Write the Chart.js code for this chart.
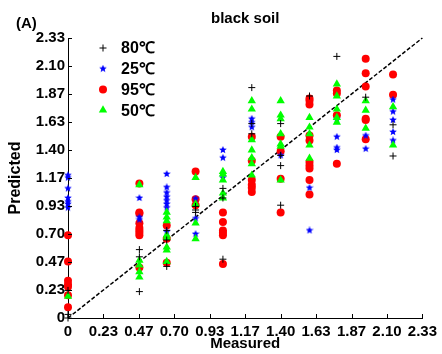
<!DOCTYPE html>
<html>
<head>
<meta charset="utf-8">
<script src="https://cdn.jsdelivr.net/npm/chart.js@4.4.0/dist/chart.umd.min.js"></script>
<style>
  html, body { margin: 0; padding: 0; background: #fff; }
</style>
</head>
<body>
<canvas id="myChart" width="442" height="354"></canvas>
<script>
// Mesures (abscisses des colonnes)
const measured = [0, 0.47, 0.65, 0.84, 1.02, 1.21, 1.40, 1.59, 1.77, 1.96, 2.14];

// Valeurs prédites, une liste par colonne
const pred80 = [
  [0.00, 0.03, 0.23], [0.57, 0.51, 0.22], [0.73, 0.65, 0.43], [0.93, 0.90, 0.88],
  [1.08, 1.00, 0.49], [1.92, 1.62, 1.535], [1.62, 1.355, 1.27, 0.94], [1.85],
  [2.18], [1.84], [1.61, 1.35]
];
const pred25 = [
  [1.19, 1.17, 1.08, 1.00, 0.97, 0.95, 0.92], [1.00, 0.84, 0.82],
  [1.20, 1.09, 1.045, 1.01, 0.98, 0.95, 0.92, 0.72], [0.995, 0.83, 0.70],
  [1.40, 1.335, 1.17], [1.66, 1.63, 1.59], [1.355], [1.085, 0.73],
  [1.66, 1.51, 1.42, 1.40], [1.52, 1.41], [1.82, 1.72, 1.65, 1.55, 1.48]
];
const pred95 = [
  [0.69, 0.47, 0.31, 0.28, 0.26, 0.19, 0.09],
  [1.12, 0.88, 0.87, 0.79, 0.75, 0.73, 0.71, 0.69, 0.42],
  [0.77, 0.66, 0.46], [1.22, 0.99, 0.94], [0.88, 0.80, 0.73, 0.71, 0.69, 0.45],
  [1.51, 1.31, 1.15, 1.11, 1.085, 1.05], [1.51, 1.39, 1.16, 0.88],
  [1.83, 1.81, 1.78, 1.52, 1.48, 1.30, 1.27, 1.245, 1.15, 1.03],
  [1.895, 1.87, 1.69, 1.285], [2.16, 2.04, 1.93, 1.66, 1.65, 1.49], [2.03, 1.86]
];
const pred50 = [
  [0.18], [1.11, 0.48, 0.44, 0.385, 0.34],
  [0.88, 0.84, 0.81, 0.69, 0.67, 0.59, 0.565, 0.47], [1.17, 0.95, 0.79, 0.66],
  [1.22, 1.20, 1.15, 1.04, 1.00], [1.81, 1.74, 1.485, 1.40, 1.335, 1.285, 1.19],
  [1.81, 1.69, 1.66, 1.535, 1.45, 1.43, 1.15], [1.67, 1.59, 1.535, 1.44, 1.33],
  [1.95, 1.85, 1.74, 1.67, 1.63], [1.81, 1.73, 1.58], [1.76, 1.44]
];

// Graduations des axes
const tickValues = [0, 0.2333, 0.4667, 0.7, 0.9333, 1.1667, 1.4, 1.6333, 1.8667, 2.1, 2.3333];
const tickLabels = ['0', '0.23', '0.47', '0.70', '0.93', '1.17', '1.40', '1.63', '1.87', '2.10', '2.33'];
const diagonal = [0, 2.3333];

function toPoints(cols) {
  const pts = [];
  cols.forEach(function(col, i) {
    col.forEach(function(v) { pts.push({ x: measured[i], y: v }); });
  });
  return pts;
}

// Étoile bleue pleine pour la série 25°C
function makeStar(size, color) {
  const c = document.createElement('canvas');
  c.width = size; c.height = size;
  const g = c.getContext('2d');
  const cx = size / 2, cy = size / 2, R = size / 2, r = R * 0.45;
  g.beginPath();
  for (let k = 0; k < 10; k++) {
    const a = -Math.PI / 2 + k * Math.PI / 5;
    const rr = k % 2 === 0 ? R : r;
    g.lineTo(cx + rr * Math.cos(a), cy + rr * Math.sin(a));
  }
  g.closePath();
  g.fillStyle = color;
  g.fill();
  return c;
}
const star = makeStar(8, '#0000ff');

const FONT = "Arial, 'Liberation Sans', sans-serif";
Chart.defaults.font.family = FONT;
Chart.defaults.font.weight = 'bold';
Chart.defaults.color = '#000';

// Titre, légende interne et petites graduations vers l'intérieur
const decor = {
  id: 'decor',
  afterDraw(chart) {
    const ctx = chart.ctx;
    const xs = chart.scales.x, ys = chart.scales.y;
    const area = chart.chartArea;
    ctx.save();
    ctx.strokeStyle = '#000';
    ctx.lineWidth = 1;
    ctx.beginPath();
    tickValues.forEach(function(v) {
      const px = Math.round(xs.getPixelForValue(v)) + 0.5;
      ctx.moveTo(px, area.bottom); ctx.lineTo(px, area.bottom - 4);
      const py = Math.round(ys.getPixelForValue(v)) + 0.5;
      ctx.moveTo(area.left, py); ctx.lineTo(area.left + 4, py);
    });
    ctx.stroke();

    ctx.fillStyle = '#000';
    ctx.font = 'bold 15px ' + FONT;
    ctx.textBaseline = 'middle';
    ctx.textAlign = 'center';
    ctx.fillText('black soil', (area.left + area.right) / 2, 19);
    ctx.textAlign = 'left';
    ctx.fillText('(A)', 16, 24);

    // légende
    const items = chart.data.datasets.filter(function(d) { return d.legendRow !== undefined; })
      .sort(function(a, b) { return a.legendRow - b.legendRow; });
    items.forEach(function(d, i) {
      const y = 48 + i * 20.7;
      ctx.fillStyle = d.backgroundColor;
      ctx.strokeStyle = d.borderColor;
      ctx.lineWidth = d.borderWidth || 1;
      Chart.helpers.drawPoint(ctx, { pointStyle: d.pointStyle, radius: d.pointRadius, borderWidth: d.borderWidth || 0, rotation: 0 }, 103, y);
      ctx.fillStyle = '#000';
      ctx.font = 'bold 16px ' + FONT;
      ctx.fillText(d.label, 121, y + 1);
    });
    ctx.restore();
  }
};

const ctx = document.getElementById('myChart').getContext('2d');
new Chart(ctx, {
  type: 'scatter',
  data: {
    datasets: [
      {
        label: '80℃', legendRow: 0, data: toPoints(pred80), order: 0,
        pointStyle: 'cross', pointRadius: 3.5, borderWidth: 1,
        borderColor: '#000', backgroundColor: '#000', clip: false
      },
      {
        label: '50℃', legendRow: 3, data: toPoints(pred50), order: 1,
        pointStyle: 'triangle', pointRadius: 4.8, borderWidth: 0,
        borderColor: '#00ff00', backgroundColor: '#00ff00', clip: false
      },
      {
        label: '25℃', legendRow: 1, data: toPoints(pred25), order: 2,
        pointStyle: star, pointRadius: 4, borderWidth: 0,
        borderColor: '#0000ff', backgroundColor: '#0000ff', clip: false
      },
      {
        label: '95℃', legendRow: 2, data: toPoints(pred95), order: 3,
        pointStyle: 'circle', pointRadius: 4, borderWidth: 0,
        borderColor: '#ff0000', backgroundColor: '#ff0000', clip: false
      },
      {
        type: 'line', label: '1:1', order: 4,
        data: diagonal.map(function(v) { return { x: v, y: v }; }),
        borderColor: '#000', borderWidth: 1.5, borderDash: [4, 2],
        pointRadius: 0, fill: false, clip: false
      }
    ]
  },
  options: {
    responsive: false,
    animation: false,
    layout: { padding: { top: 38, right: 16, left: 0, bottom: 0 } },
    plugins: { legend: { display: false }, tooltip: { enabled: false }, title: { display: false } },
    scales: {
      x: {
        type: 'linear', min: 0, max: 2.3333,
        grid: { display: false, drawTicks: false },
        border: { display: true, color: '#000', width: 1 },
        afterBuildTicks: function(s) { s.ticks = tickValues.map(function(v) { return { value: v }; }); },
        afterFit: function(s) { s.height = 36; },
        ticks: {
          autoSkip: false, maxRotation: 0, padding: 5,
          font: { size: 15, weight: 'bold' },
          callback: function(v, i) { return tickLabels[i]; }
        },
        title: { display: true, text: 'Measured', font: { size: 15, weight: 'bold' }, padding: { top: 0, bottom: 1 } }
      },
      y: {
        type: 'linear', min: 0, max: 2.3333,
        grid: { display: false, drawTicks: false },
        border: { display: true, color: '#000', width: 1 },
        afterBuildTicks: function(s) { s.ticks = tickValues.map(function(v) { return { value: v }; }); },
        afterFit: function(s) { s.width = 68; },
        ticks: {
          autoSkip: false, padding: 3,
          font: { size: 15, weight: 'bold' },
          callback: function(v, i) { return tickLabels[i]; }
        },
        title: { display: true, text: 'Predicted', font: { size: 16, weight: 'bold' }, padding: { top: 6, bottom: 0 } }
      }
    }
  },
  plugins: [decor]
});
</script>
</body>
</html>
